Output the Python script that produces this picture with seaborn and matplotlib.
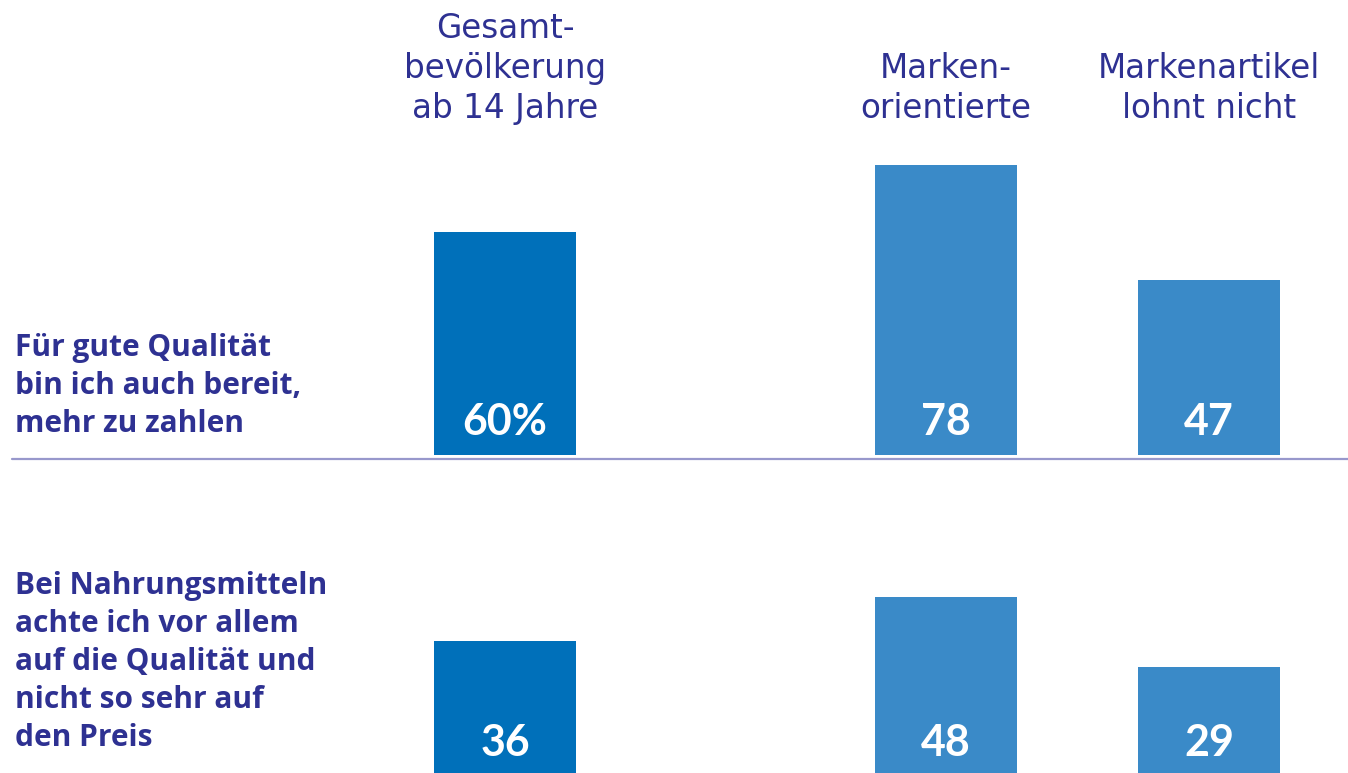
import matplotlib
matplotlib.use("Agg")
import matplotlib.pyplot as plt
from matplotlib.lines import Line2D
import pandas as pd
import seaborn as sns

# ---- data -------------------------------------------------------------
groups = ["Gesamtbevölkerung ab 14 Jahre", "Markenorientierte", "Markenartikel lohnt nicht"]
group_headers = [
    ["Gesamt-", "bevölkerung", "ab 14 Jahre"],
    ["Marken-", "orientierte"],
    ["Markenartikel", "lohnt nicht"],
]
statements = [
    ["Für gute Qualität", "bin ich auch bereit,", "mehr zu zahlen"],
    ["Bei Nahrungsmitteln", "achte ich vor allem", "auf die Qualität und",
     "nicht so sehr auf", "den Preis"],
]
values_quality = [60, 78, 47]   # Für gute Qualität ... mehr zu zahlen
values_food = [36, 48, 29]      # Bei Nahrungsmitteln ... Qualität
row_values = [values_quality, values_food]

# ---- layout / style ----------------------------------------------------
W, H = 1348, 773
bar_centres = [505, 946, 1209]          # horizontal position of each group (px)
bar_width_px = 142
row_baseline_px = [455, 773]            # bar baseline, px from top
row_px_per_unit = [3.72, 3.67]
label_offset_px = [20, 17]              # value label baseline above bar base
statement_first_baseline = [356, 594]
statement_step = 38
header_last_baseline = 118
header_step = 40

TEXT = "#2E3192"
palette = ["#0070BA", "#3A8AC8", "#3A8AC8"]
RULE = "#9898CC"

sns.set_theme(style="white")
plt.rcParams["font.family"] = ["DejaVu Sans"]

fig = plt.figure(figsize=(W / 100, H / 100), dpi=100)
fig.patch.set_facecolor("white")


def fy(px_from_top):
    return (H - px_from_top) / H


native_unit = min(b - a for a, b in zip(bar_centres, bar_centres[1:]))

for r, vals in enumerate(row_values):
    scale = row_px_per_unit[r]
    ax = fig.add_axes([0, fy(row_baseline_px[r]), 1, 100 * scale / H])
    df = pd.DataFrame({"pos": bar_centres, "value": vals, "group": groups})
    sns.barplot(data=df, x="pos", y="value", hue="group", hue_order=groups,
                palette=palette, native_scale=True, dodge=False,
                width=bar_width_px / native_unit, saturation=1,
                legend=False, ax=ax, linewidth=0)
    ax.set_xlim(0, W)
    ax.set_ylim(0, 100)
    ax.axis("off")
    ax.patch.set_alpha(0)

    for i, (x, v) in enumerate(zip(bar_centres, vals)):
        txt = f"{v}%" if (r == 0 and i == 0) else f"{v}"
        ax.annotate(txt, xy=(x, 0), xytext=(0, label_offset_px[r]),
                    textcoords="offset pixels", ha="center", va="baseline",
                    color="white", fontsize=31, fontweight="bold",
                    family=["Lato", "DejaVu Sans"], annotation_clip=False)

    for k, line in enumerate(statements[r]):
        fig.text(15 / W, fy(statement_first_baseline[r] + k * statement_step), line,
                 ha="left", va="baseline", color=TEXT, fontsize=21.5,
                 fontweight="bold", family=["Open Sans", "DejaVu Sans"])

# group headers, bottom-aligned above the columns
for x, lines in zip(bar_centres, group_headers):
    n = len(lines)
    for k, line in enumerate(lines):
        base = header_last_baseline - (n - 1 - k) * header_step
        fig.text(x / W, fy(base), line, ha="center", va="baseline",
                 color=TEXT, fontsize=23.5)

# thin rule between the two statements
fig.add_artist(Line2D([12 / W, 1.0], [fy(459), fy(459)], color=RULE, lw=1.6,
                      transform=fig.transFigure))

fig.savefig("out.png", dpi=100, facecolor="white")
